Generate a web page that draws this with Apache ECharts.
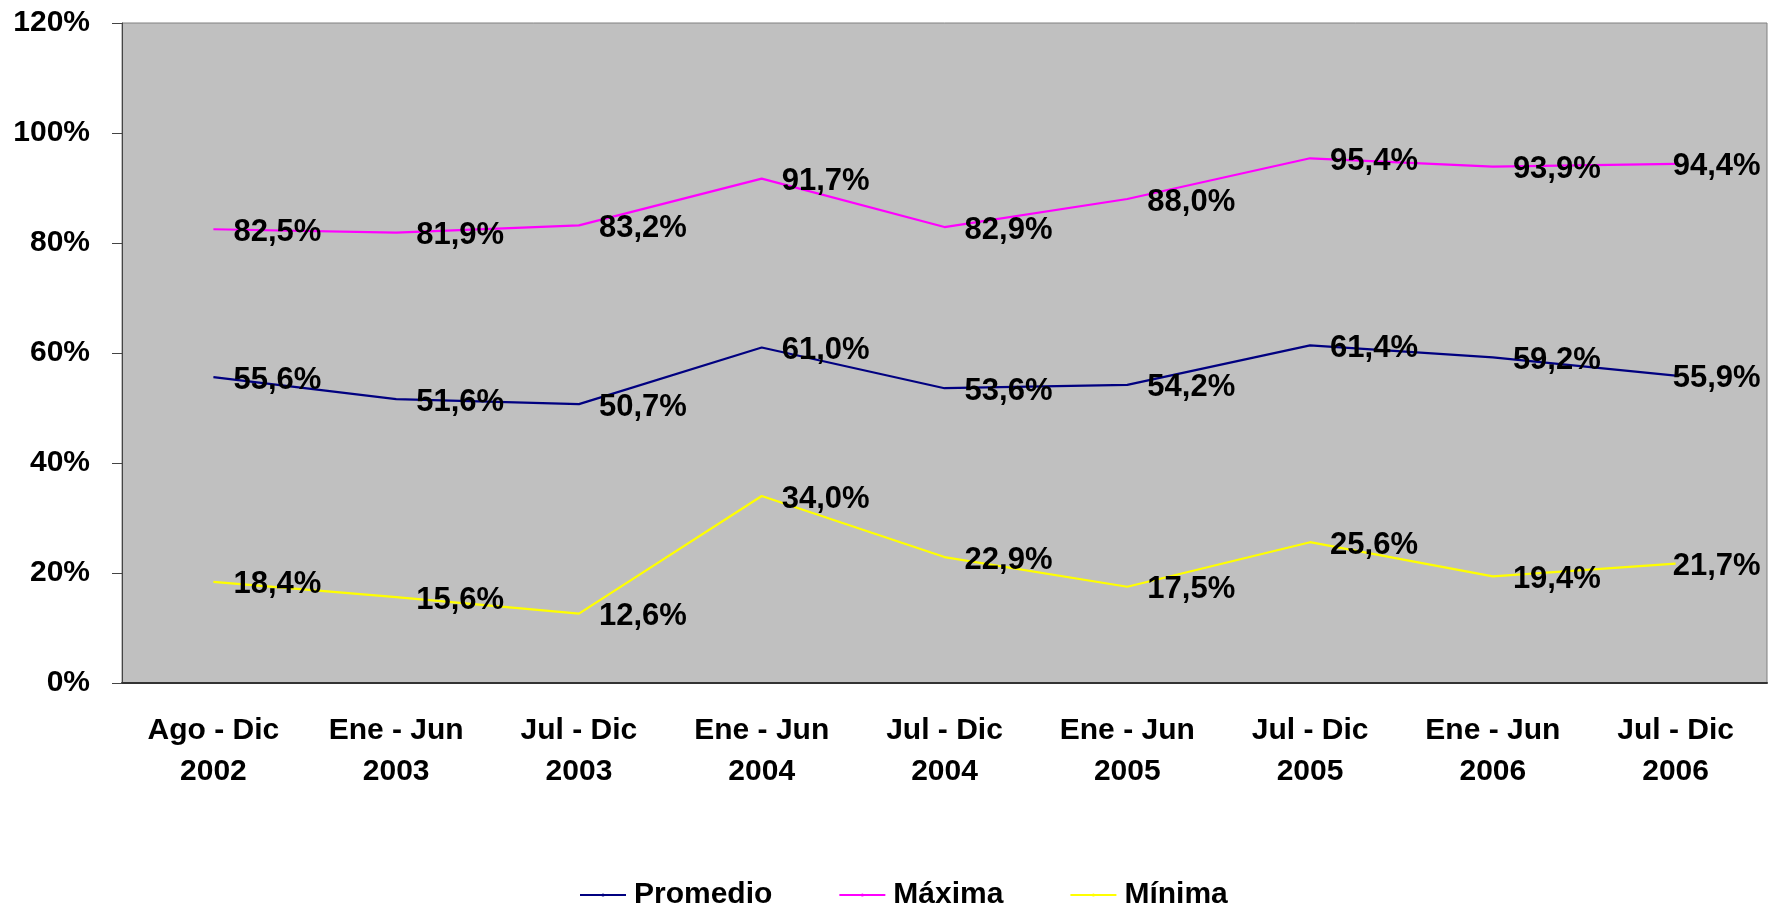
<!DOCTYPE html>
<html>
<head>
<meta charset="utf-8">
<script src="https://cdn.jsdelivr.net/npm/echarts@6/dist/echarts.min.js"></script>
<style>
  html, body { margin: 0; padding: 0; background: #fff; }
  #chart { width: 1780px; height: 913px; }
</style>
</head>
<body>
<div id="chart"></div>
<script>
// periodos
var categorias = ['Ago - Dic\n2002', 'Ene - Jun\n2003', 'Jul - Dic\n2003', 'Ene - Jun\n2004', 'Jul - Dic\n2004',
  'Ene - Jun\n2005', 'Jul - Dic\n2005', 'Ene - Jun\n2006', 'Jul - Dic\n2006']

// valores en %
var promedio = [55.6, 51.6, 50.7, 61.0, 53.6, 54.2, 61.4, 59.2, 55.9]
var maxima = [82.5, 81.9, 83.2, 91.7, 82.9, 88.0, 95.4, 93.9, 94.4]
var minima = [18.4, 15.6, 12.6, 34.0, 22.9, 17.5, 25.6, 19.4, 21.7]

var yTicks = [0, 20, 40, 60, 80, 100, 120]

var fuente = '"Liberation Sans", Arial, sans-serif'
var fuenteNarrow = '"Liberation Sans Narrow", "Liberation Sans", Arial, sans-serif'

// la ultima etiqueta no cabe a la derecha, se pega al punto
function puntos (arr) {
  return arr.map(function (v, i) {
    if (i === arr.length - 1) return { value: v, label: { distance: -3 } }
    return v
  })
}

function serie (nombre, datos, color) {
  return {
    name: nombre,
    type: 'line',
    data: puntos(datos),
    symbol: 'circle',
    symbolSize: 0.1,
    showSymbol: true,
    lineStyle: { color: color, width: 2.2 },
    itemStyle: { color: color },
    label: {
      show: true,
      position: 'right',
      distance: 20,
      offset: [0, 3],
      color: '#000',
      fontFamily: fuenteNarrow,
      fontWeight: 'bold',
      fontSize: 31,
      formatter: function (p) {
        return p.value.toFixed(1).replace('.', ',') + '%'
      }
    },
    emphasis: { disabled: true }
  }
}

var myChart = echarts.init(document.getElementById('chart'))
var option = {
  animation: false,
  backgroundColor: '#fff',
  grid: {
    left: 122,
    right: 13,
    top: 23,
    bottom: 230,
    show: true,
    backgroundColor: '#C0C0C0',
    borderColor: '#808080',
    borderWidth: 1
  },
  legend: {
    left: 574,
    top: 875,
    itemWidth: 46,
    itemHeight: 4,
    itemGap: 66,
    data: ['Promedio', 'Máxima', 'Mínima'],
    textStyle: {
      fontFamily: fuente,
      fontWeight: 'bold',
      fontSize: 30,
      color: '#000',
      padding: [0, 0, 0, 3]
    }
  },
  xAxis: {
    type: 'category',
    data: categorias,
    boundaryGap: true,
    axisLine: { lineStyle: { color: '#333', width: 2 } },
    axisTick: { length: 10, lineStyle: { color: '#333', width: 1 } },
    axisLabel: {
      interval: 0,
      margin: 27,
      color: '#000',
      fontFamily: fuente,
      fontWeight: 'bold',
      fontSize: 30,
      lineHeight: 41
    },
    splitLine: { show: false }
  },
  yAxis: {
    type: 'value',
    min: yTicks[0],
    max: yTicks[yTicks.length - 1],
    interval: 20,
    axisLine: { show: true, lineStyle: { color: '#444', width: 1 } },
    axisTick: { show: true, length: 10, lineStyle: { color: '#444' } },
    axisLabel: {
      margin: 32,
      color: '#000',
      fontFamily: fuente,
      fontWeight: 'bold',
      fontSize: 30,
      formatter: '{value}%'
    },
    splitLine: { show: false }
  },
  series: [
    serie('Promedio', promedio, '#000080'),
    serie('Máxima', maxima, '#FF00FF'),
    serie('Mínima', minima, '#FFFF00')
  ]
}
myChart.setOption(option)
</script>
</body>
</html>
